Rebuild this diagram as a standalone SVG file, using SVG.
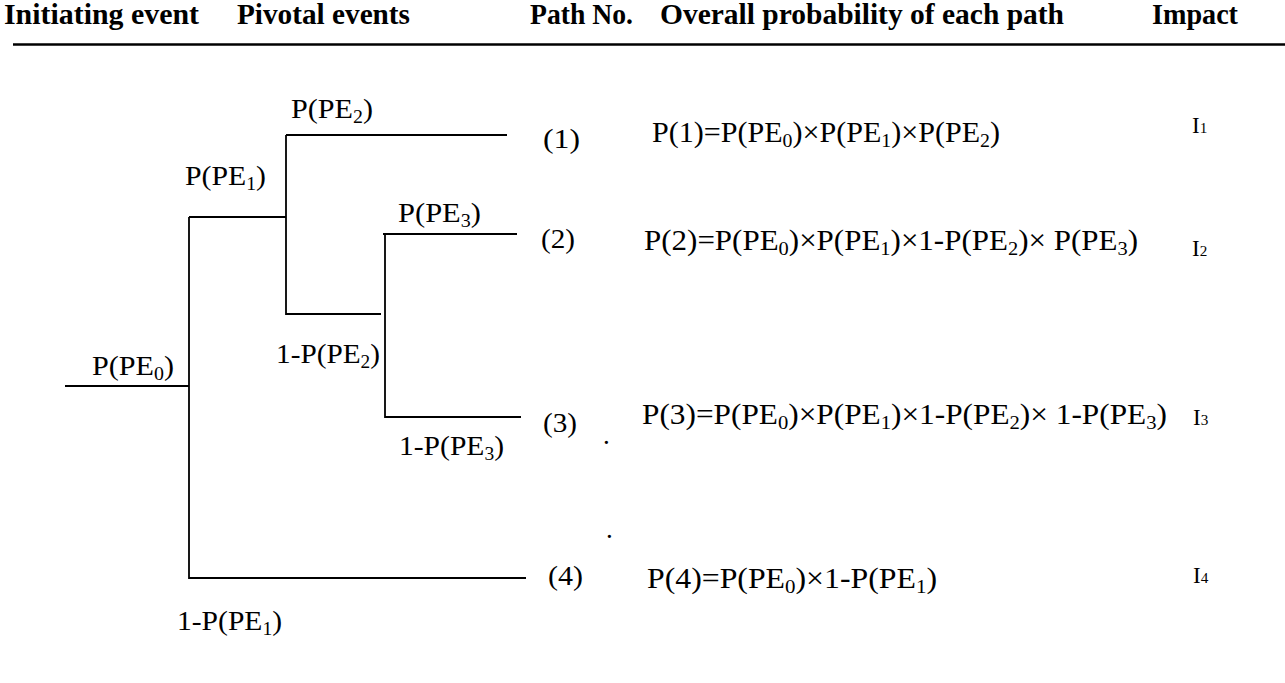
<svg xmlns="http://www.w3.org/2000/svg" width="1285" height="683" viewBox="0 0 1285 683">
  <style>
    .h { font-family: "Liberation Serif", "Times New Roman", serif; font-weight: bold; font-size: 29px; fill: #000; }
    .t { font-family: "Liberation Serif", "Times New Roman", serif; font-size: 27px; fill: #000; }
    .f { font-family: "Liberation Serif", "Times New Roman", serif; font-size: 29px; fill: #000; }
    .i { font-family: "Liberation Serif", "Times New Roman", serif; font-size: 23px; fill: #000; }
    .s { font-size: 0.66em; }
    .ln { stroke: #000; stroke-width: 1.8; fill: none; stroke-linecap: butt; }
    .rule { stroke: #000; stroke-width: 2.6; }
  </style>
  <rect width="1285" height="683" fill="#fff"/>

  <!-- column headings -->
  <g id="header">
    <text class="h" x="4" y="24" textLength="195" lengthAdjust="spacingAndGlyphs">Initiating event</text>
    <text class="h" x="237" y="24" textLength="173" lengthAdjust="spacingAndGlyphs">Pivotal events</text>
    <text class="h" x="530" y="24" textLength="103" lengthAdjust="spacingAndGlyphs">Path No.</text>
    <text class="h" x="660" y="24" textLength="404" lengthAdjust="spacingAndGlyphs">Overall probability of each path</text>
    <text class="h" x="1152" y="24" textLength="86" lengthAdjust="spacingAndGlyphs">Impact</text>
    <line class="rule" x1="13" y1="44.5" x2="1285" y2="44.5"/>
  </g>

  <!-- event tree branches -->
  <g id="connectors">
    <path class="ln" d="M65 386 H189 M189 217 V578 H526"/>
    <path class="ln" d="M189 217 H286 M286 135 V314 H381 M286 135 H507"/>
    <path class="ln" d="M383 234 H517 M385 233 V417 H521"/>
  </g>

  <!-- branch probabilities -->
  <g id="pe0"><text class="t" x="92" y="375" textLength="82" lengthAdjust="spacingAndGlyphs">P(PE<tspan class="s" dy="5">0</tspan><tspan dy="-5">)</tspan></text></g>
  <g id="pe1"><text class="t" x="185" y="185" textLength="81" lengthAdjust="spacingAndGlyphs">P(PE<tspan class="s" dy="5">1</tspan><tspan dy="-5">)</tspan></text></g>
  <g id="not-pe1"><text class="t" x="177" y="630" textLength="105" lengthAdjust="spacingAndGlyphs">1-P(PE<tspan class="s" dy="5">1</tspan><tspan dy="-5">)</tspan></text></g>
  <g id="pe2"><text class="t" x="291" y="118" textLength="82" lengthAdjust="spacingAndGlyphs">P(PE<tspan class="s" dy="5">2</tspan><tspan dy="-5">)</tspan></text></g>
  <g id="not-pe2"><text class="t" x="276" y="363" textLength="104" lengthAdjust="spacingAndGlyphs">1-P(PE<tspan class="s" dy="5">2</tspan><tspan dy="-5">)</tspan></text></g>
  <g id="pe3"><text class="t" x="398" y="222" textLength="83" lengthAdjust="spacingAndGlyphs">P(PE<tspan class="s" dy="5">3</tspan><tspan dy="-5">)</tspan></text></g>
  <g id="not-pe3"><text class="t" x="399" y="455" textLength="105" lengthAdjust="spacingAndGlyphs">1-P(PE<tspan class="s" dy="5">3</tspan><tspan dy="-5">)</tspan></text></g>

  <!-- path rows -->
  <g id="path1">
    <text class="t" x="543" y="148" textLength="37" lengthAdjust="spacingAndGlyphs">(1)</text>
    <text class="f" x="652" y="142" textLength="348" lengthAdjust="spacingAndGlyphs">P(1)=P(PE<tspan class="s" dy="5">0</tspan><tspan dy="-5">)×P(PE</tspan><tspan class="s" dy="5">1</tspan><tspan dy="-5">)×P(PE</tspan><tspan class="s" dy="5">2</tspan><tspan dy="-5">)</tspan></text>
    <text class="i" x="1192" y="133">I<tspan class="s">1</tspan></text>
  </g>
  <g id="path2">
    <text class="t" x="541" y="248" textLength="34" lengthAdjust="spacingAndGlyphs">(2)</text>
    <text class="f" x="644" y="250" textLength="494" lengthAdjust="spacingAndGlyphs">P(2)=P(PE<tspan class="s" dy="5">0</tspan><tspan dy="-5">)×P(PE</tspan><tspan class="s" dy="5">1</tspan><tspan dy="-5">)×1-P(PE</tspan><tspan class="s" dy="5">2</tspan><tspan dy="-5">)× P(PE</tspan><tspan class="s" dy="5">3</tspan><tspan dy="-5">)</tspan></text>
    <text class="i" x="1192" y="256">I<tspan class="s">2</tspan></text>
  </g>
  <g id="path3">
    <text class="t" x="543" y="432" textLength="34" lengthAdjust="spacingAndGlyphs">(3)</text>
    <text class="f" x="642" y="424" textLength="525" lengthAdjust="spacingAndGlyphs">P(3)=P(PE<tspan class="s" dy="5">0</tspan><tspan dy="-5">)×P(PE</tspan><tspan class="s" dy="5">1</tspan><tspan dy="-5">)×1-P(PE</tspan><tspan class="s" dy="5">2</tspan><tspan dy="-5">)× 1-P(PE</tspan><tspan class="s" dy="5">3</tspan><tspan dy="-5">)</tspan></text>
    <text class="i" x="1193" y="425">I<tspan class="s">3</tspan></text>
    <text class="t" x="603" y="444">.</text>
  </g>
  <g id="path4">
    <text class="t" x="548" y="585" textLength="35" lengthAdjust="spacingAndGlyphs">(4)</text>
    <text class="f" x="647" y="588" textLength="290" lengthAdjust="spacingAndGlyphs">P(4)=P(PE<tspan class="s" dy="5">0</tspan><tspan dy="-5">)×1-P(PE</tspan><tspan class="s" dy="5">1</tspan><tspan dy="-5">)</tspan></text>
    <text class="i" x="1193" y="583">I<tspan class="s">4</tspan></text>
    <text class="t" x="606" y="538">.</text>
  </g>
</svg>
